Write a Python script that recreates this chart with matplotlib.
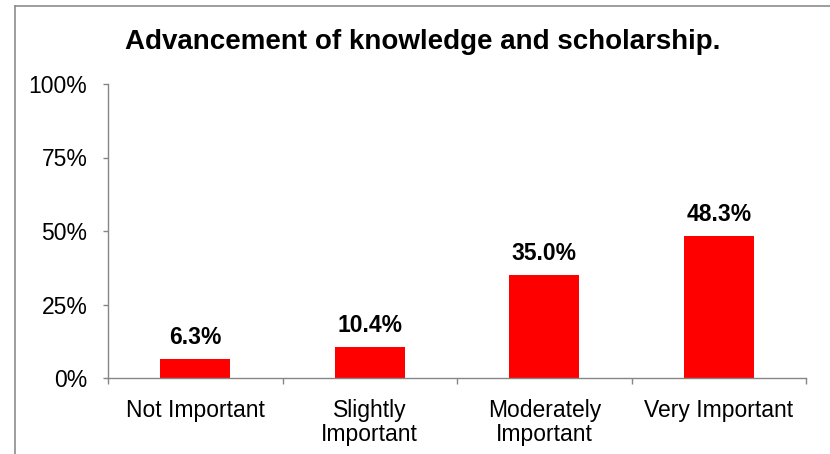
import matplotlib
matplotlib.use("Agg")
import matplotlib.pyplot as plt
from matplotlib.lines import Line2D
from matplotlib.ticker import FixedLocator, PercentFormatter

categories = ["Not Important", "Slightly\nImportant", "Moderately\nImportant", "Very Important"]
values = [6.3, 10.4, 35.0, 48.3]
yticks = [0, 25, 50, 75, 100]
title = "Advancement of knowledge and scholarship."

plt.rcParams['font.family'] = ['Liberation Sans', 'DejaVu Sans']

fig = plt.figure(figsize=(8.3, 4.54), dpi=100)
ax = fig.add_axes([108/830, 1-378/454, (806-108)/830, (378-84)/454])

x = list(range(len(categories)))
bars = ax.bar(x, values, width=0.4, color="#FF0000")
for xi, v in zip(x, values):
    ax.annotate(f"{v:.1f}%", (xi, v), xytext=(0, 7.5), textcoords="offset points",
                ha="center", va="bottom", fontsize=16.5, fontweight="bold")

ax.set_xlim(-0.5, len(categories) - 0.5)
ax.set_ylim(0, 100)
ax.set_yticks(yticks)
ax.yaxis.set_major_formatter(PercentFormatter(decimals=0))
ax.set_xticks(x)
ax.set_xticklabels(categories, fontsize=16.5, linespacing=1.08)
ax.xaxis.set_minor_locator(FixedLocator([i - 0.5 for i in range(len(categories) + 1)]))
ax.tick_params(axis="x", which="major", length=0, pad=15)
ax.tick_params(axis="x", which="minor", length=4.5, color="#868686", width=1)
ax.tick_params(axis="y", length=3.8, color="#868686", width=1, pad=11, labelsize=16.5)

for s in ["top", "right"]:
    ax.spines[s].set_visible(False)
for s in ["left", "bottom"]:
    ax.spines[s].set_color("#868686")
    ax.spines[s].set_linewidth(1)

fig.text(0.5 + 8/830, 1 - 42/454, title, ha="center", va="center", fontsize=20, fontweight="bold")

# outer chart frame (left and top edges visible)
fig.add_artist(Line2D([15/830, 15/830], [0, 1 - 6/454], transform=fig.transFigure,
                      color="#8C8C8C", linewidth=1.2))
fig.add_artist(Line2D([15/830, 1], [1 - 6/454, 1 - 6/454], transform=fig.transFigure,
                      color="#8C8C8C", linewidth=1.2))

fig.savefig("out.png", dpi=100, facecolor="white")
